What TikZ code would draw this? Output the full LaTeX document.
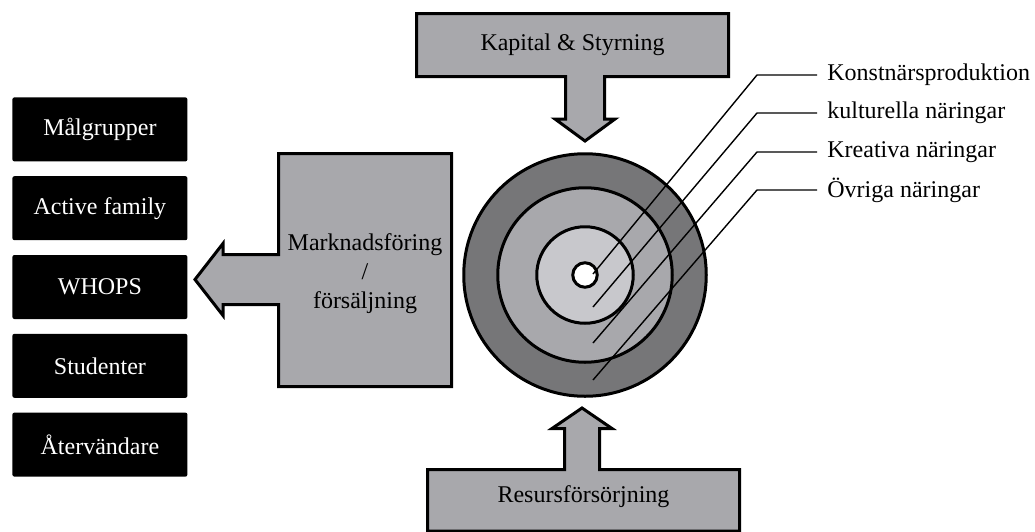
\documentclass[tikz,border=0pt]{standalone}
\usepackage{fontspec}
\setmainfont{Liberation Serif}
\usetikzlibrary{positioning,calc}
\definecolor{blockgrey}{RGB}{168,168,172}
\definecolor{ringdark}{RGB}{118,118,120}
\definecolor{ringmid}{RGB}{168,168,172}
\definecolor{ringlight}{RGB}{200,200,204}
\begin{document}
\begin{tikzpicture}[x=0.5pt,y=-0.5pt,
  every node/.style={font=\fontsize{12}{14.5}\selectfont},
  group/.style={rectangle,fill=black,text=white,rounded corners=1pt,minimum width=87.5pt,minimum height=32pt},
  block/.style={draw,fill=blockgrey,line width=1.5pt},
  ring/.style={circle,draw,line width=1.5pt,inner sep=0pt},
  pointer/.style={draw,line width=0.7pt}]
  \useasboundingbox (0,0) rectangle (1035,531);
  \clip (0,0) rectangle (1035,531);

  \node (Malgrupper) [group,anchor=north west] at (12,97) {Målgrupper};
  \node (ActiveFamily) [group,below=7pt of Malgrupper] {Active family};
  \node (Whops) [group,below=7pt of ActiveFamily] {WHOPS};
  \node (Studenter) [group,below=7pt of Whops] {Studenter};
  \node (Atervandare) [group,below=7pt of Studenter] {Återvändare};

  \path[block] (416.5,13.5) -- (728.5,13.5) -- (728.5,76.5) -- (604.5,76.5) -- (604.5,119) -- (615,119)
    -- (585,141) -- (555,119) -- (565.5,119) -- (565.5,76.5) -- (416.5,76.5) -- cycle;
  \node (Kapital) at (572.5,45) {Kapital \& Styrning};

  \path[block] (278.5,153.5) -- (451.5,153.5) -- (451.5,386.5) -- (278.5,386.5) -- (278.5,304.5) -- (223,304.5)
    -- (223,315.5) -- (195,279.5) -- (223,243.5) -- (223,254.5) -- (278.5,254.5) -- cycle;
  \node (Marknad) [align=center] at (365,274) {Marknadsföring\\/\\försäljning};

  \path[block] (427.5,531) -- (427.5,469.5) -- (564.5,469.5) -- (564.5,428.5) -- (552,428.5) -- (582,408)
    -- (612,428.5) -- (599.5,428.5) -- (599.5,469.5) -- (739.5,469.5) -- (739.5,531) -- cycle;
  \node (Resurs) at (583.5,497) {Resursförsörjning};

  \node (Ovriga) [ring,fill=ringdark,minimum size=121.25pt] at (585,275) {};
  \node (Kreativa) [ring,fill=ringmid,minimum size=87.25pt] at (Ovriga.center) {};
  \node (Kulturella) [ring,fill=ringlight,minimum size=48.25pt] at (Ovriga.center) {};
  \node (Konstnar) [ring,fill=white,minimum size=12.25pt] at (Ovriga.center) {};

  \coordinate (KonstnarEnd) at (593,274);
  \coordinate (KulturellaEnd) at (593,307);
  \coordinate (KreativaEnd) at (593,343);
  \coordinate (OvrigaEnd) at (593,380);

  \node (LblKonstnar) [anchor=west,inner xsep=5pt] at (817,75) {Konstnärsproduktion};
  \node (LblKulturella) [anchor=west,inner xsep=5pt] at (817,113) {kulturella näringar};
  \node (LblKreativa) [anchor=west,inner xsep=5pt] at (817,152) {Kreativa näringar};
  \node (LblOvriga) [anchor=west,inner xsep=5pt] at (817,190) {Övriga näringar};

  \draw[pointer] (KonstnarEnd) -- ($(LblKonstnar.west)+(-60,0)$) -- (LblKonstnar.west);
  \draw[pointer] (KulturellaEnd) -- ($(LblKulturella.west)+(-60,0)$) -- (LblKulturella.west);
  \draw[pointer] (KreativaEnd) -- ($(LblKreativa.west)+(-60,0)$) -- (LblKreativa.west);
  \draw[pointer] (OvrigaEnd) -- ($(LblOvriga.west)+(-60,0)$) -- (LblOvriga.west);
\end{tikzpicture}
\end{document}
